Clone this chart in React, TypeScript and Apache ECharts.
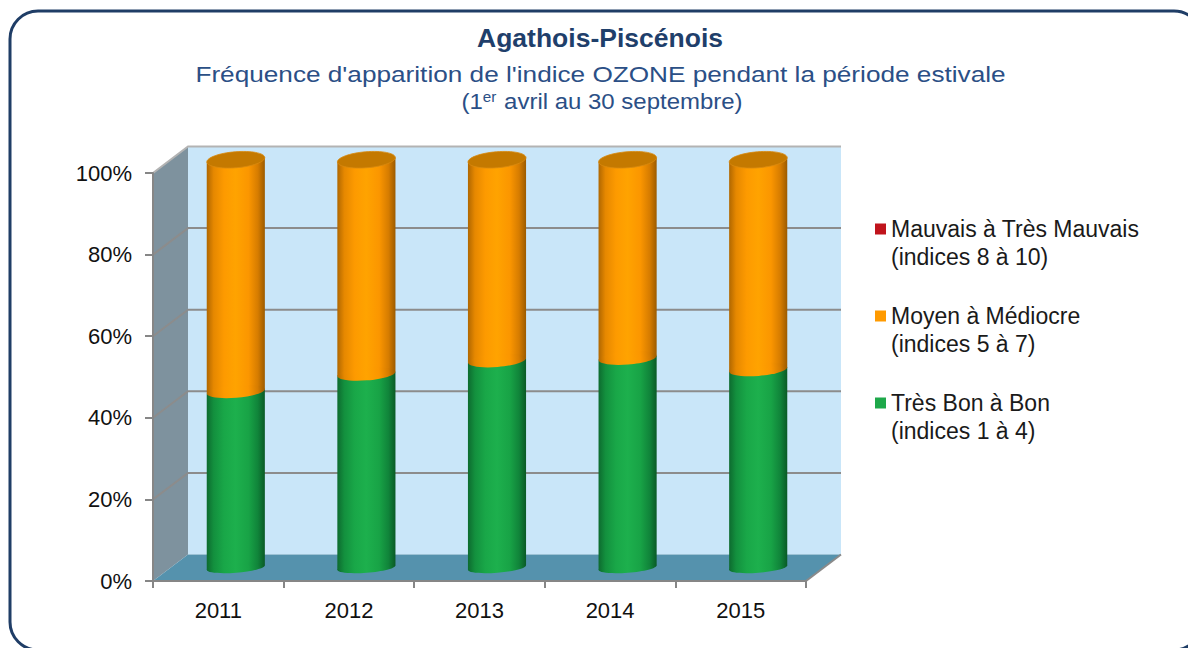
import { useEffect, useRef } from "react";
import * as echarts from "echarts";

// ---- data ----
const years = ["2011", "2012", "2013", "2014", "2015"];
const tresBonABon = [43.2, 47.5, 50.8, 51.4, 48.6];
const moyenAMediocre = [56.8, 52.5, 49.2, 48.6, 51.4];
const mauvaisATresMauvais = [0, 0, 0, 0, 0];
const yTicks = [0, 20, 40, 60, 80, 100];

const nameMauvais = "Mauvais à Très Mauvais\n(indices 8 à 10)";
const nameMoyen = "Moyen à Médiocre\n(indices 5 à 7)";
const nameBon = "Très Bon à Bon\n(indices 1 à 4)";

const titleText = "Agathois-Piscénois";
const subText = "Fréquence d'apparition de l'indice OZONE pendant la période estivale";
const periodText = "{n|(1}{s|er}{n| avril au 30 septembre)}";

// ---- style constants ----
const FONT = "'Liberation Sans', Arial, Helvetica, sans-serif";
const DX = 35;
const DY = -26.5;
const TILT = 0.08;
const TITLE_COLOR = "#1f3f6b";
const SUB_COLOR = "#2b4f86";

const grad = (stops: [number, string][]) =>
  new echarts.graphic.LinearGradient(
    0,
    0,
    1,
    0,
    stops.map(([offset, color]) => ({ offset, color }))
  );

const orangeGrad = grad([
  [0, "#b06700"],
  [0.12, "#e68800"],
  [0.3, "#fd9a00"],
  [0.5, "#ffa300"],
  [0.72, "#fb9600"],
  [0.88, "#d67c00"],
  [1, "#9c5b00"],
]);
const greenGrad = grad([
  [0, "#0d6b2f"],
  [0.12, "#13903e"],
  [0.3, "#19a748"],
  [0.5, "#1db04d"],
  [0.72, "#18a346"],
  [0.88, "#10843a"],
  [1, "#0a5a26"],
]);
const redGrad = grad([
  [0, "#7a0d12"],
  [0.5, "#c8151d"],
  [1, "#6e0b10"],
]);

function makeCylinderSeries(
  name: string,
  values: number[],
  bases: number[],
  fill: any,
  legendColor: string,
  isTopFn: (i: number) => boolean,
  capColor: string
) {
  return {
    type: "custom",
    name,
    itemStyle: { color: legendColor },
    z: 3,
    silent: true,
    encode: { x: 0, y: [1, 2] },
    data: values.map((v, i) => [i, bases[i], bases[i] + v]),
    renderItem: (params: any, api: any) => {
      const idx = api.value(0);
      const lo = api.value(1);
      const hi = api.value(2);
      if (!(hi - lo > 0)) return { type: "group", children: [] };
      const band = api.size([1, 0])[0];
      const rx = (band * 0.445) / 2;
      const pBot = api.coord([idx, lo]);
      const pTop = api.coord([idx, hi]);
      const cx = pBot[0] + DX / 2;
      const yBot = pBot[1] + DY / 2;
      const yTop = pTop[1] + DY / 2;
      const s = rx * Math.sin(TILT);
      const ryLo = 5 + 3 * (lo / 100);
      const ryHi = 5 + 3 * (hi / 100);
      const children: any[] = [
        {
          type: "polygon",
          shape: {
            points: [
              [cx - rx, yTop + s],
              [cx + rx, yTop - s],
              [cx + rx, yBot - s],
              [cx - rx, yBot + s],
            ],
          },
          style: { fill },
        },
        {
          type: "ellipse",
          x: cx,
          y: yBot,
          rotation: TILT,
          shape: { cx: 0, cy: 0, rx, ry: ryLo },
          style: { fill },
        },
      ];
      if (isTopFn(idx)) {
        children.push({
          type: "ellipse",
          x: cx,
          y: yTop,
          rotation: TILT,
          shape: { cx: 0, cy: 0, rx, ry: ryHi },
          style: { fill: capColor, stroke: "#d88a10", lineWidth: 0.8 },
        });
      }
      return { type: "group", children };
    },
  };
}

export default function App() {
  const ref = useRef<HTMLDivElement>(null);

  useEffect(() => {
    if (!ref.current) return;
    const chart = echarts.init(ref.current, null, { renderer: "svg" });

    const baseBon = years.map(() => 0);
    const baseMoyen = years.map((_, i) => tresBonABon[i]);
    const baseMauvais = years.map((_, i) => tresBonABon[i] + moyenAMediocre[i]);

    const wallsSeries = {
      type: "custom",
      name: "walls",
      silent: true,
      z: 1,
      encode: { x: 0, y: 1 },
      data: [[0, 0]],
      renderItem: (params: any, api: any) => {
        const band = api.size([1, 0])[0];
        const p0 = api.coord([0, 0]);
        const left = p0[0] - band / 2;
        const right = left + band * years.length;
        const yb = p0[1];
        const yt = api.coord([0, 100])[1];
        const children: any[] = [
          {
            type: "rect",
            shape: { x: left + DX, y: yt + DY, width: right - left, height: yb - yt },
            style: { fill: "#c9e6f9" },
          },
          {
            type: "polygon",
            shape: {
              points: [
                [left, yt],
                [left + DX, yt + DY],
                [left + DX, yb + DY],
                [left, yb],
              ],
            },
            style: { fill: "#7e929e" },
          },
          {
            type: "polygon",
            shape: {
              points: [
                [left, yb],
                [right, yb],
                [right + DX, yb + DY],
                [left + DX, yb + DY],
              ],
            },
            style: { fill: "#5592ad" },
          },
          {
            type: "line",
            shape: { x1: right, y1: yb, x2: right + DX, y2: yb + DY },
            style: { stroke: "#8a8a8a", lineWidth: 2 },
          },
        ];
        yTicks.forEach((v) => {
          if (v === 0) return;
          const y = api.coord([0, v])[1];
          children.push({
            type: "polyline",
            shape: {
              points: [
                [left, y],
                [left + DX, y + DY],
                [right + DX, y + DY],
              ],
            },
            style: {
              fill: "none",
              stroke: v === 100 ? "#b3b3b3" : "#8c8c8c",
              lineWidth: 2,
            },
          });
        });
        return { type: "group", children };
      },
    };

    const option: any = {
      animation: false,
      backgroundColor: "#ffffff",
      textStyle: { fontFamily: FONT },
      legend: {
        data: [nameMauvais, nameMoyen, nameBon],
        orient: "vertical",
        left: 875,
        top: 187,
        padding: 0,
        itemGap: 3,
        icon: "rect",
        itemWidth: 11,
        itemHeight: 11,
        selectedMode: false,
        formatter: (name: string) => " \n" + name,
        textStyle: {
          fontSize: 23,
          color: "#1a1a1a",
          fontFamily: FONT,
          lineHeight: 28,
        },
      },
      grid: { left: 153, right: 382, top: 173, bottom: 67, containLabel: false },
      xAxis: {
        type: "category",
        data: years,
        z: 5,
        axisLine: { show: true, lineStyle: { color: "#868686", width: 2 } },
        axisTick: { show: true, length: 7, lineStyle: { color: "#868686", width: 2 } },
        axisLabel: { fontSize: 22, color: "#111111", margin: 18, fontFamily: FONT },
        splitLine: { show: false },
      },
      yAxis: {
        type: "value",
        min: 0,
        max: 100,
        interval: 20,
        z: 5,
        axisLine: { show: true, lineStyle: { color: "#868686", width: 2 } },
        axisTick: { show: true, length: 8, lineStyle: { color: "#868686", width: 2 } },
        axisLabel: {
          fontSize: 22,
          color: "#111111",
          margin: 21,
          fontFamily: FONT,
          formatter: "{value}%",
        },
        splitLine: { show: false },
      },
      graphic: [
        {
          type: "rect",
          silent: true,
          z: 100,
          shape: { x: 10, y: 11, width: 1192, height: 639, r: 28 },
          style: { fill: "none", stroke: "#1f3d66", lineWidth: 3 },
        },
        {
          type: "text",
          silent: true,
          x: 600,
          y: 38,
          scaleX: 1.02,
          style: {
            text: titleText,
            fill: TITLE_COLOR,
            font: `bold 26px ${FONT}`,
            align: "center",
            verticalAlign: "middle",
          },
        },
        {
          type: "text",
          silent: true,
          x: 600.5,
          y: 74,
          scaleX: 1.19,
          style: {
            text: subText,
            fill: SUB_COLOR,
            font: `normal 22px ${FONT}`,
            align: "center",
            verticalAlign: "middle",
          },
        },
        {
          type: "text",
          silent: true,
          x: 602,
          y: 101,
          scaleX: 1.09,
          style: {
            text: periodText,
            align: "center",
            verticalAlign: "middle",
            rich: {
              n: { fontSize: 22, fontWeight: "normal", fill: SUB_COLOR, color: SUB_COLOR, fontFamily: FONT },
              s: {
                fontSize: 14,
                fontWeight: "normal",
                fill: SUB_COLOR,
                color: SUB_COLOR,
                fontFamily: FONT,
                verticalAlign: "top",
                padding: [0, 1, 0, 0],
              },
            },
          },
        },
      ],
      series: [
        wallsSeries,
        makeCylinderSeries(nameBon, tresBonABon, baseBon, greenGrad, "#1ea84a",
          (i) => moyenAMediocre[i] + mauvaisATresMauvais[i] <= 0, "#15803a"),
        makeCylinderSeries(nameMoyen, moyenAMediocre, baseMoyen, orangeGrad, "#ff9a00",
          (i) => mauvaisATresMauvais[i] <= 0, "#c47900"),
        makeCylinderSeries(nameMauvais, mauvaisATresMauvais, baseMauvais, redGrad, "#c0141c",
          () => true, "#8e1016"),
      ],
    };

    chart.setOption(option);
    return () => {
      chart.dispose();
    };
  }, []);

  return (
    <div
      ref={ref}
      style={{ position: "fixed", left: 0, top: 0, width: 1188, height: 648, background: "#fff" }}
    />
  );
}
